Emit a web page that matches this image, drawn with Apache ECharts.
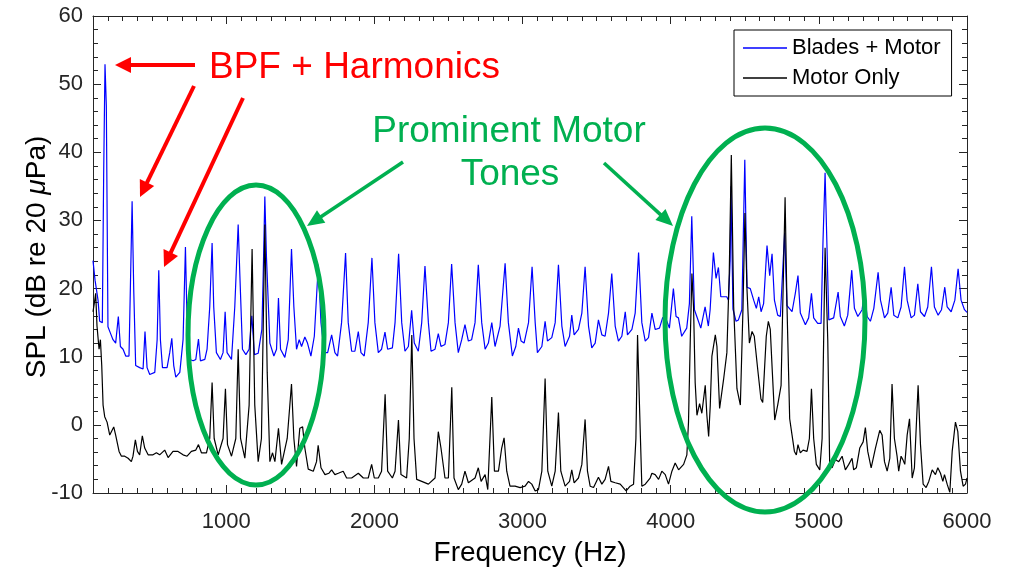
<!DOCTYPE html>
<html><head><meta charset="utf-8">
<script src="https://cdn.jsdelivr.net/npm/echarts@6/dist/echarts.min.js"></script>
<style>html,body{margin:0;padding:0;background:#fff}#c{width:1009px;height:572px}</style>
</head><body><div id="c"></div>
<script>
// ---- tick labels ----
const xTickValues = [1000, 2000, 3000, 4000, 5000, 6000];
const yTickValues = [-10, 0, 10, 20, 30, 40, 50, 60];

// ---- series: [frequency Hz, SPL dB] ----
const bladesMotor = [
[100,24.1],[114,21.2],[123,21],[134,18.3],[145,15.2],[163,15],[172,36.7],[181,52.9],[190,46.8],[201,14.4],
[217,13.5],[235,12.5],[253,12.0],[271,15.9],[285,11.5],[303,11.1],[321,10.1],[343,10.1],[352,19.8],[364,32.8],
[375,19.8],[388,8.7],[415,8.4],[438,8.2],[451,13.7],[465,8.4],[483,7.4],[517,7.7],[533,12.5],[544,22.7],
[555,12.5],[569,8.4],[600,8.4],[618,10.6],[632,12.7],[645,8.7],[659,7],[686,7.7],[708,12.5],[724,26.1],
[735,15],[753,9.6],[776,9.4],[794,9.6],[812,12.6],[825,9.4],[855,9.6],[870,11.1],[888,17.3],[904,26.7],
[915,17.3],[933,10.6],[960,9.6],[978,10.6],[992,16.6],[1005,10.6],[1035,9.6],[1057,17.3],[1080,29.4],[1091,22.2],
[1109,11.1],[1132,10.3],[1154,11.1],[1172,16],[1190,10.3],[1215,10.5],[1240,14],[1249,22],[1260,33.5],[1271,24.6],
[1294,12.0],[1321,10.1],[1339,11.1],[1352,18.6],[1366,11.1],[1395,9.9],[1418,12.5],[1440,25.8],[1456,17.3],[1474,11.1],
[1492,12.5],[1508,11.5],[1530,12.9],[1548,12.0],[1571,10.1],[1594,13],[1621,23.5],[1639,15],[1661,10.6],[1684,10.6],
[1711,13.2],[1733,10.6],[1751,10.1],[1778,15],[1805,25.2],[1823,15],[1846,10.8],[1868,10.8],[1891,13.7],[1909,10.6],
[1931,10.1],[1958,15],[1983,24.5],[2003,15],[2026,10.6],[2048,11.1],[2071,13.6],[2089,11.1],[2121,11.3],[2139,15],
[2163,25.1],[2184,15],[2206,10.8],[2229,11.5],[2251,16.8],[2269,12],[2296,10.8],[2319,15],[2341,23.3],[2364,15],
[2382,10.8],[2409,11.1],[2431,13.4],[2449,11.5],[2476,11.8],[2499,15],[2521,23.6],[2544,15],[2566,10.6],[2589,12.5],
[2611,14.7],[2634,12.3],[2656,12.5],[2679,15],[2701,23.5],[2724,15],[2747,11.1],[2769,12],[2792,15],[2814,11.5],
[2848,14.5],[2882,23.7],[2904,15],[2931,10.1],[2954,11.5],[2972,14.2],[2990,12.3],[3010,12.0],[3040,15],[3064,23.2],
[3085,15],[3100,10.6],[3130,11.5],[3152,15.2],[3168,12.3],[3197,12.8],[3220,15],[3242,23.5],[3265,14.5],[3287,11.5],
[3317,13],[3332,16.1],[3348,13.2],[3377,14],[3400,16.4],[3422,23.2],[3445,14.5],[3467,11.3],[3490,12],[3512,15.4],
[3535,13.2],[3557,13],[3580,16.4],[3602,22.2],[3625,14.5],[3647,12.3],[3670,13],[3693,16.6],[3708,13.2],[3738,14],
[3760,16.4],[3783,25.3],[3805,15],[3828,12.3],[3850,12.8],[3873,16.4],[3895,14],[3924,14.2],[3945,15.7],[3962,15.9],
[3991,14.2],[4018,20],[4036,15.9],[4052,15.7],[4074,13],[4108,14.2],[4126,17.8],[4142,30.6],[4160,16.9],[4176,15.9],
[4203,14.2],[4232,17.3],[4254,14.5],[4266,16.9],[4288,25.3],[4306,21.5],[4322,23.1],[4338,18.8],[4378,18.8],[4390,18.3],
[4401,24.1],[4407,35],[4420,17],[4441,15.2],[4457,15.4],[4480,16.9],[4500,38.9],[4515,20.2],[4537,20],[4560,18.3],
[4578,17.1],[4594,18.8],[4610,16.6],[4627,17.8],[4650,26.3],[4668,21.9],[4684,25.1],[4700,18.3],[4722,16.1],[4740,15.9],
[4769,28.2],[4785,17.5],[4796,17.3],[4819,16.6],[4841,19.3],[4859,21.9],[4875,16.4],[4909,14.7],[4931,15.7],[4950,19.3],
[4965,15.7],[4992,14.9],[5015,14.9],[5028,27],[5042,37],[5055,26],[5067,15.4],[5100,15.7],[5130,19.5],[5145,15.9],
[5172,14.5],[5195,16.1],[5222,22.7],[5240,17.1],[5263,15.9],[5292,16.9],[5307,19.5],[5326,15.9],[5348,15.2],[5371,17.1],
[5400,22.4],[5416,18.3],[5443,15.7],[5465,16.4],[5488,20.2],[5506,16.1],[5533,15.7],[5555,17.3],[5578,23.2],[5596,18.3],
[5623,15.7],[5645,16.1],[5668,20.7],[5686,16.6],[5713,15.9],[5735,17.3],[5760,23.2],[5780,17.3],[5805,16.1],[5828,16.9],
[5850,20.2],[5866,17.3],[5893,16.6],[5918,18.3],[5940,22.9],[5960,18.3],[5983,16.9],[6000,16.5]
];

const motorOnly = [
[100,16.6],[110,18],[118,19.3],[127,14.5],[141,11.1],[150,12.5],[159,8.7],[168,2.9],[179,1.2],[195,0.4],
[213,-1.5],[226,-1.5],[240,-0.3],[253,-1.5],[276,-3.9],[292,-4.6],[314,-4.6],[337,-4.9],[359,-5.4],[370,-4.6],
[386,-2.2],[400,-3.9],[415,-4.4],[433,-1.6],[449,-3.4],[472,-4.4],[505,-4.4],[528,-4.1],[550,-4.4],[584,-3.7],
[607,-4.8],[640,-3.9],[674,-3.9],[708,-4.4],[735,-4.6],[764,-3.9],[794,-3.7],[812,-2.9],[832,-4.1],[866,-4.1],
[888,-2],[904,6.2],[918,-2],[945,-4.4],[978,-2],[994,5.3],[1008,-2.9],[1035,-4.6],[1064,-2],[1080,11.1],
[1096,-2],[1125,-4.9],[1154,2.9],[1174,25.8],[1192,2.9],[1215,-5.4],[1237,-2],[1260,29.4],[1276,7.7],[1294,-5.4],
[1312,-4.1],[1328,-5.4],[1352,-0.5],[1373,-5.8],[1411,-2],[1440,6],[1456,-2],[1474,-6.1],[1496,-0.5],[1515,-0.3],
[1530,-3.4],[1553,-6.5],[1587,-6.8],[1609,-5.4],[1620,-3],[1639,-6.3],[1666,-7.3],[1693,-7.1],[1711,-6.6],[1733,-7.3],
[1756,-7.1],[1789,-6.8],[1812,-7.8],[1846,-7.8],[1891,-7.1],[1925,-7.8],[1958,-7.8],[1981,-5.8],[1999,-7.8],[2026,-7.8],
[2048,-6.8],[2072,4.5],[2089,-6.8],[2121,-7.8],[2139,-6.8],[2162,0.7],[2179,-7.3],[2217,-7.8],[2235,-2],[2252,13.2],
[2267,-2],[2285,-8],[2319,-8.3],[2364,-8.7],[2409,-7.8],[2431,-1],[2449,-3.4],[2476,-7.8],[2499,-7.8],[2522,5.5],
[2537,-7.8],[2566,-9.5],[2589,-8.7],[2611,-6.8],[2634,-8.5],[2679,-7.8],[2701,-6.3],[2720,-8.3],[2747,-7.3],[2765,-9.5],
[2774,-4.9],[2792,4.1],[2810,-6.8],[2837,-6.8],[2859,-3.4],[2875,-1.9],[2893,-6.8],[2915,-9],[2949,-9],[2983,-9.2],
[3017,-9],[3040,-8.3],[3062,-8.7],[3085,-9.7],[3107,-9.5],[3130,-6.8],[3152,6.8],[3170,-6.8],[3197,-9],[3220,-6.8],
[3242,1.8],[3258,-6.8],[3287,-9],[3317,-8.3],[3332,-6.6],[3348,-8.5],[3377,-7.8],[3400,-5.8],[3422,0.8],[3438,-6.8],
[3456,-9],[3479,-9.2],[3512,-7.7],[3535,-8.7],[3557,-8],[3580,-6.1],[3596,-8.3],[3625,-8.5],[3659,-8.7],[3699,-9.7],
[3726,-9],[3749,-8.7],[3765,-2],[3776,13.2],[3789,2.9],[3805,-9],[3828,-8.7],[3861,-7.8],[3873,-7.1],[3895,-7.3],
[3918,-8],[3940,-6.8],[3963,-7.3],[3985,-8.7],[4008,-6.8],[4030,-5.6],[4053,-6.6],[4087,-5.8],[4109,-4.4],[4120,0.4],
[4132,12.5],[4143,22.2],[4154,17.3],[4165,6.2],[4177,1.4],[4195,3.1],[4210,1.7],[4233,5.8],[4244,1.4],[4256,-1.7],
[4267,2.9],[4278,10.1],[4301,13.2],[4312,11.5],[4330,2.4],[4357,6.7],[4379,10.6],[4395,22.2],[4409,39.6],[4425,17.3],
[4447,5.3],[4470,2.9],[4488,17.3],[4501,31.1],[4515,19.8],[4531,12],[4549,13.7],[4564,13],[4587,8.2],[4609,3.8],
[4621,3.3],[4632,7.7],[4645,13],[4659,15.2],[4672,14],[4686,7.7],[4702,0.7],[4722,2.9],[4745,5.8],[4756,17.3],
[4772,33.4],[4785,17.3],[4803,0.9],[4819,-1.5],[4835,-3.9],[4848,-4.4],[4859,-2.9],[4875,-4.1],[4893,-3.7],[4920,-3.9],
[4936,-2],[4950,5.3],[4965,-2],[4983,-5.8],[5006,-6.6],[5022,-2],[5042,26],[5060,12.5],[5073,-5.8],[5089,-6.3],
[5112,-5.1],[5134,-5.4],[5157,-4.6],[5179,-6.6],[5202,-5.8],[5224,-4.9],[5235,-6.6],[5253,-6.3],[5276,-3.4],[5299,-2.5],
[5314,-0.4],[5330,-3.9],[5353,-6.3],[5382,-3.4],[5411,-0.8],[5427,-1.5],[5443,-5.4],[5461,-6.8],[5479,-4.9],[5494,6],
[5510,-2],[5528,-4.6],[5539,-6.8],[5555,-4.6],[5567,-5.1],[5580,-5.8],[5596,-1.5],[5612,0.9],[5630,-7.8],[5645,-6.3],
[5670,5.8],[5686,-2.9],[5704,-8.7],[5724,-9.2],[5742,-8.3],[5765,-6.6],[5787,-7.3],[5803,-6.3],[5821,-7.1],[5837,-8.3],
[5848,-7.3],[5866,-8.7],[5884,-9.9],[5900,-3.9],[5922,0.4],[5938,-1],[5956,-6.8],[5974,-9],[5990,-8.7],[6000,-7.8]
];

const seriesNames = ['Blades + Motor', 'Motor Only'];

// ---- build ----
const FONT = '"Liberation Sans", Arial, Helvetica, sans-serif';
const AX = '#262626';
const xMinorTicks = [];
for (let f = 200; f < 6000; f += 100) if (f % 1000 !== 0) xMinorTicks.push(f);

function xAxisDef(pos, values, len, showLine, showLabel) {
  return {
    type: 'value', min: 100, max: 6000, position: pos,
    axisLine: { show: showLine, onZero: false, lineStyle: { color: AX, width: 1 } },
    axisTick: { show: true, inside: true, length: len, customValues: values, lineStyle: { color: AX, width: 1 } },
    axisLabel: { show: showLabel, customValues: values, fontSize: 22, color: AX, fontFamily: FONT, margin: 18,
      formatter: function (v) { return String(v); } },
    splitLine: { show: false }
  };
}
function yAxisDef(pos, showLabel) {
  return {
    type: 'value', min: -10, max: 60, interval: 10, position: pos,
    axisLine: { show: true, onZero: false, lineStyle: { color: AX, width: 1 } },
    axisTick: { show: true, inside: true, length: 8, lineStyle: { color: AX, width: 1 } },
    minorTick: { show: true, splitNumber: 5, length: 5, lineStyle: { color: AX, width: 1 } },
    axisLabel: { show: showLabel, fontSize: 22, color: AX, fontFamily: FONT, margin: 10 },
    splitLine: { show: false }, minorSplitLine: { show: false }
  };
}

function arrow(x1, y1, x2, y2, color, w, hl, hw) {
  const dx = x2 - x1, dy = y2 - y1, L = Math.hypot(dx, dy), ux = dx / L, uy = dy / L;
  const bx = x2 - ux * hl, by = y2 - uy * hl, px = -uy, py = ux;
  return [
    { type: 'line', z: 100, shape: { x1: x1, y1: y1, x2: bx + ux * 2, y2: by + uy * 2 }, style: { stroke: color, lineWidth: w } },
    { type: 'polygon', z: 100, shape: { points: [[x2, y2], [bx + px * hw, by + py * hw], [bx - px * hw, by - py * hw]] }, style: { fill: color } }
  ];
}

const RED = '#FF0000', GREEN = '#00B050';
const graphics = [].concat(
  [
    { type: 'ellipse', z: 100, shape: { cx: 256, cy: 335, rx: 68, ry: 150 }, style: { fill: 'none', stroke: GREEN, lineWidth: 5 } },
    { type: 'ellipse', z: 100, shape: { cx: 765, cy: 320, rx: 100, ry: 192 }, style: { fill: 'none', stroke: GREEN, lineWidth: 5 } },
    { type: 'text', z: 100, x: 209, y: 68, style: { text: 'BPF + Harmonics', fill: RED, font: '37px ' + FONT, align: 'left', verticalAlign: 'middle' } },
    { type: 'text', z: 100, x: 509, y: 132, style: { text: 'Prominent Motor', fill: GREEN, font: '37px ' + FONT, align: 'center', verticalAlign: 'middle' } },
    { type: 'text', z: 100, x: 510, y: 175, style: { text: 'Tones', fill: GREEN, font: '37px ' + FONT, align: 'center', verticalAlign: 'middle' } },
    { type: 'text', z: 100, x: 37, y: 257, rotation: Math.PI / 2, style: {
        text: '{n|SPL (dB re 20 }{i|μ}{n|Pa)}', align: 'center', verticalAlign: 'middle',
        rich: { n: { fontSize: 28, fontFamily: FONT, fill: '#000' }, i: { fontSize: 28, fontFamily: FONT, fontStyle: 'italic', fill: '#000' } } } }
  ],
  arrow(195, 65, 115, 65, RED, 4, 16, 8),
  arrow(194, 86, 140, 197, RED, 4, 16, 8),
  arrow(243, 98, 164, 267, RED, 4, 16, 8),
  arrow(403, 162, 307, 226, GREEN, 3.5, 17, 7.5),
  arrow(604, 163, 673, 226, GREEN, 3.5, 17, 7.5)
);

const chart = echarts.init(document.getElementById('c'), null, { renderer: 'canvas' });
chart.setOption({
  animation: false,
  backgroundColor: '#ffffff',
  grid: { left: 93, right: 42, top: 16, bottom: 73, containLabel: false },
  legend: {
    data: seriesNames, orient: 'vertical', left: 734, top: 30,
    padding: [7, 11, 7, 9], itemGap: 8, itemWidth: 44, itemHeight: 1.5, icon: 'rect',
    borderColor: '#000', borderWidth: 1, backgroundColor: '#fff',
    textStyle: { fontSize: 22, color: '#000', fontFamily: FONT, lineHeight: 22 }
  },
  xAxis: [
    Object.assign(xAxisDef('bottom', xTickValues, 8, true, true), {
      name: 'Frequency (Hz)', nameLocation: 'middle', nameGap: 46,
      nameTextStyle: { fontSize: 28, color: '#000', fontFamily: FONT }
    }),
    xAxisDef('bottom', xMinorTicks, 5, false, false),
    xAxisDef('top', xTickValues, 8, true, false),
    xAxisDef('top', xMinorTicks, 5, false, false)
  ],
  yAxis: [yAxisDef('left', true), yAxisDef('right', false)],
  series: [
    { name: seriesNames[0], type: 'line', data: bladesMotor, xAxisIndex: 0, yAxisIndex: 0, symbol: 'none', showSymbol: false,
      lineStyle: { color: '#0000FF', width: 1.2 }, itemStyle: { color: '#0000FF' }, z: 2 },
    { name: seriesNames[1], type: 'line', data: motorOnly, xAxisIndex: 0, yAxisIndex: 0, symbol: 'none', showSymbol: false,
      lineStyle: { color: '#000000', width: 1.2 }, itemStyle: { color: '#000000' }, z: 3 }
  ],
  graphic: graphics
});
</script></body></html>
